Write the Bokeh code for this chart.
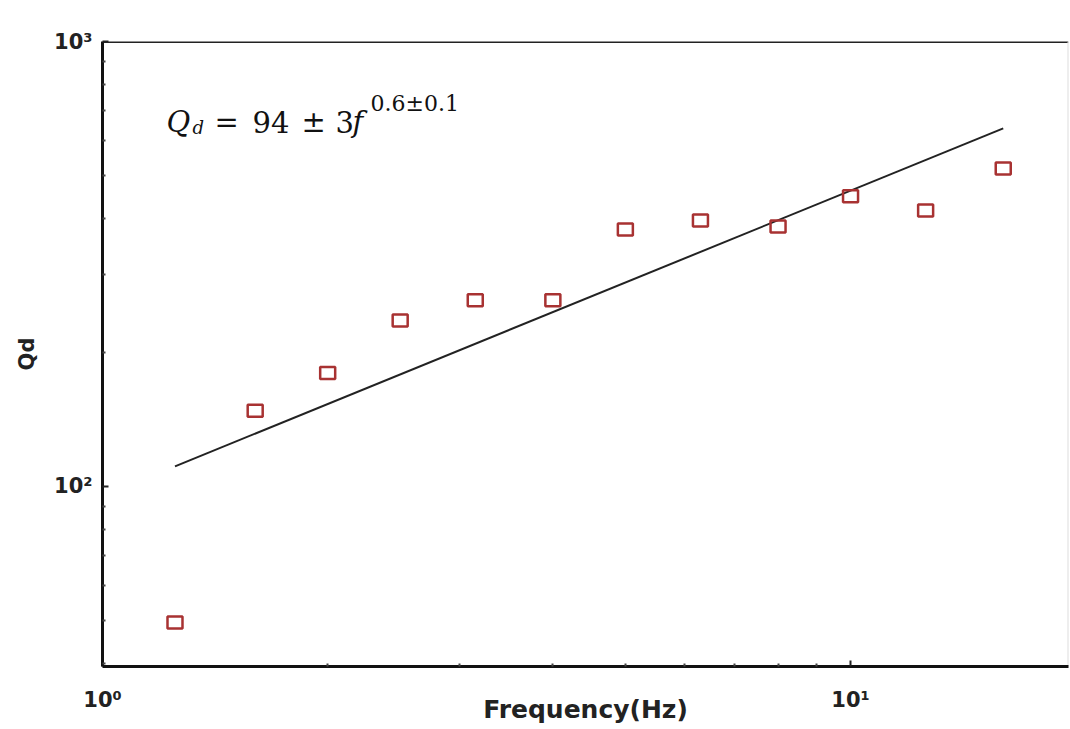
import math
from bokeh.plotting import figure
from bokeh.models import Range1d, Label, FixedTicker
from bokeh.embed import file_html
from bokeh.resources import INLINE

# ---- data ----
freq = [1.25, 1.6, 2.0, 2.5, 3.15, 4.0, 5.0, 6.3, 8.0, 10.0, 12.6, 16.0]
qd = [49.5, 148, 180, 236, 262, 262, 378, 396, 384, 449, 417, 518]
fit_f = [1.25, 16.0]
fit_q = [111, 638]
x_ticks = [1, 10]
x_tick_labels = ["10⁰", "10¹"]
y_ticks = [100, 1000]
y_tick_labels = ["10²", "10³"]
x_minor = [2, 3, 4, 5, 6, 7, 8, 9]
y_minor = [40, 50, 60, 70, 80, 90, 200, 300, 400, 500, 600, 700, 800, 900]

W, H = 1070, 729
L, R, T, B = 102, 2, 41, 63
XMIN, XMAX = 1.0, 19.56
YMIN, YMAX = 39.4, 1000.0

p = figure(width=W, height=H, x_axis_type="log", y_axis_type="log",
           x_range=Range1d(XMIN, XMAX), y_range=Range1d(YMIN, YMAX),
           output_backend="svg", toolbar_location=None,
           min_border_left=L, min_border_right=R, min_border_top=T, min_border_bottom=B)
p.grid.visible = False
p.outline_line_color = None
p.background_fill_color = "white"
p.border_fill_color = "white"

p.xaxis[0].ticker = FixedTicker(ticks=x_ticks, minor_ticks=x_minor)
p.yaxis[0].ticker = FixedTicker(ticks=y_ticks, minor_ticks=y_minor)
p.xaxis[0].major_label_overrides = dict(zip(x_ticks, x_tick_labels))
p.yaxis[0].major_label_overrides = dict(zip(y_ticks, y_tick_labels))
for ax in (p.xaxis[0], p.yaxis[0]):
    ax.axis_line_width = 3
    ax.axis_line_color = "#111111"
    ax.major_tick_in = 6
    ax.major_tick_out = 0
    ax.minor_tick_in = 3
    ax.minor_tick_out = 0
    ax.major_tick_line_width = 2
    ax.minor_tick_line_width = 2
    ax.major_tick_line_color = "#222222"
    ax.minor_tick_line_color = "#444444"
    ax.major_label_text_font = "DejaVu Sans"
    ax.major_label_text_font_style = "bold"
    ax.major_label_text_font_size = "21px"
    ax.major_label_text_color = "#222222"
    ax.axis_label_text_font = "DejaVu Sans"
    ax.axis_label_text_font_style = "bold"
    ax.axis_label_text_color = "#222222"

p.xaxis.axis_label = "Frequency(Hz)"
p.xaxis.axis_label_text_font_size = "25px"
p.xaxis.major_label_standoff = 21
p.xaxis.axis_label_standoff = -20
p.yaxis.axis_label = "Qd"
p.yaxis.axis_label_text_font_size = "21px"
p.yaxis.major_label_standoff = 10
p.yaxis.axis_label_standoff = 12

# top frame line
p.line([XMIN, XMAX], [YMAX, YMAX], line_color="#222222", line_width=3)
# faint right frame line
p.line([XMAX, XMAX], [YMIN, YMAX], line_color="#dddddd", line_width=2)

p.line(fit_f, fit_q, line_color="#222222", line_width=2)
p.rect(freq, qd, width=15, height=12, width_units="screen", height_units="screen",
       fill_color="white", fill_alpha=0.0, line_color="#a83232", line_width=2.5)

# equation annotation (screen units: from frame bottom-left, y up)
FH = H - T - B
def lab(px, py, txt, fs, style):
    p.add_layout(Label(x=px - L, y=(T + FH) - py, x_units="screen", y_units="screen",
                       text=txt, text_font="DejaVu Serif", text_font_size=fs,
                       text_font_style=style, text_baseline="alphabetic", text_color="#111111"))

parts = [
    ("Q", 166, 121, "29px", "italic"),
    ("d", 192, 127, "18px", "italic"),
    ("=", 214, 121, "29px", "normal"),
    ("94", 252, 121, "29px", "normal"),
    ("±", 301, 121, "29px", "normal"),
    ("3", 335, 121, "29px", "normal"),
    ("f", 352, 121, "29px", "italic"),
    ("0.6±0.1", 370, 103, "22px", "normal"),
]
for txt, px, py, fs, st in parts:
    lab(px, py, txt, fs, st)

open("out.html", "w").write(file_html(p, INLINE))
